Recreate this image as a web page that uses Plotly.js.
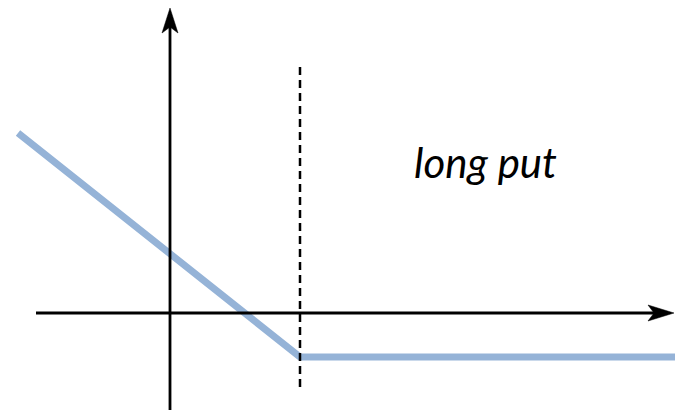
<!DOCTYPE html>
<html>
<head>
<meta charset="utf-8">
<script src="https://cdn.plot.ly/plotly-3.0.1.min.js"></script>
<style>html,body{margin:0;padding:0;background:#fff;}#chart{width:675px;height:414px;}</style>
</head>
<body>
<div id="chart"></div>
<script>
// Long put payoff (units: stock price on x, profit on y)
const stockPrice = [-152, 130, 505];
const payoff = [180, -44, -44];
const strike = 130;
const labelText = "long put";

const xRange = [-170, 505];
const yRange = [-101, 313];

const trace = {
  x: stockPrice, y: payoff, type: 'scatter', mode: 'lines',
  line: {color: '#95B3D7', width: 7},
  hoverinfo: 'skip', showlegend: false
};

const black = '#000000';
const shapes = [
  // x axis
  {type: 'line', xref: 'x', yref: 'y', x0: -134, x1: 486, y0: 0, y1: 0, line: {color: black, width: 2.8}},
  {type: 'path', xref: 'x', yref: 'y', path: 'M504,0 L478,8 L484,0 L478,-8 Z', fillcolor: black, line: {color: black, width: 0.5}},
  // y axis
  {type: 'line', xref: 'x', yref: 'y', x0: 0, x1: 0, y0: -97, y1: 287, line: {color: black, width: 2.8}},
  {type: 'path', xref: 'x', yref: 'y', path: 'M0,305 L-8,280 L0,286 L8,280 Z', fillcolor: black, line: {color: black, width: 0.5}},
  // strike dashed line
  {type: 'line', xref: 'x', yref: 'y', x0: strike, x1: strike, y0: -74, y1: 248, line: {color: black, width: 2.5, dash: '8px,5px'}}
];

const layout = {
  width: 675, height: 414,
  margin: {l: 0, r: 0, t: 0, b: 0, pad: 0},
  paper_bgcolor: '#ffffff', plot_bgcolor: '#ffffff',
  xaxis: {range: xRange, visible: false, fixedrange: true},
  yaxis: {range: yRange, visible: false, fixedrange: true},
  shapes: shapes,
  annotations: [{
    x: 315, y: 151, xref: 'x', yref: 'y', text: '<i>' + labelText + '</i>', showarrow: false,
    font: {family: 'Lato, "Open Sans", sans-serif', size: 42, color: black},
    xanchor: 'center', yanchor: 'middle'
  }]
};

Plotly.newPlot('chart', [trace], layout, {staticPlot: true, displayModeBar: false});
</script>
</body>
</html>
